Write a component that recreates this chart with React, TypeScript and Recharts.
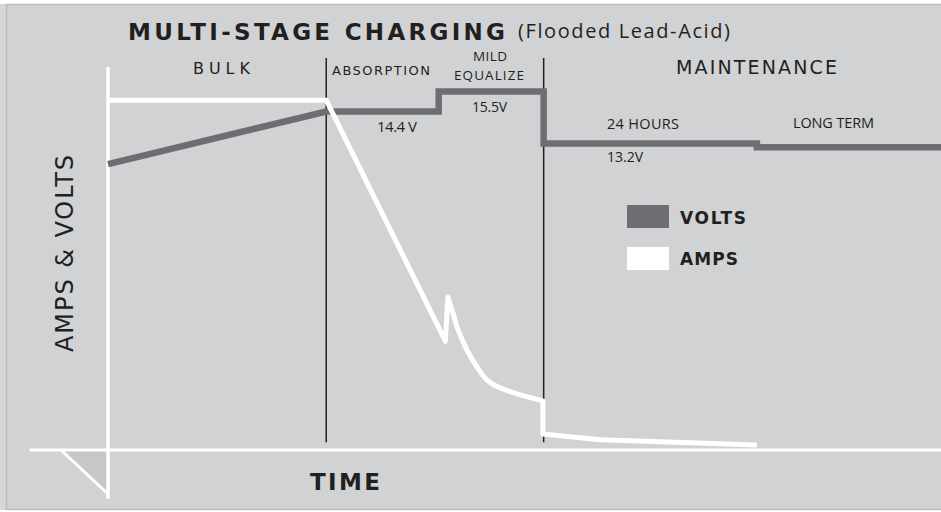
import { LineChart, Line, XAxis, YAxis, ReferenceLine } from "recharts";

// time runs 0..100 across the plot, level 0..100 is relative height (no real units on the diagram)
const voltTime = [0, 26.2, 39.7, 39.7, 52.3, 52.3, 77.9, 77.9, 100];
const voltLevel = [73.3, 86.8, 86.8, 91.9, 91.9, 78.6, 78.6, 77.6, 77.6];

const ampTime = [0, 26.2, 40.5, 40.8, 41.4, 41.9, 42.5, 43.1, 43.7, 44.3, 44.9, 45.5, 46.3, 47.1, 48.1, 49.1, 50.6, 52.2, 52.2, 59.1, 77.9];
const ampLevel = [89.7, 89.7, 27.9, 39.2, 35.2, 31.5, 28.3, 25.6, 23.3, 21.3, 19.4, 17.9, 16.7, 15.9, 15.1, 14.4, 13.5, 12.6, 4.1, 2.6, 1.3];

const stageBounds = [26.2, 52.3];

const volts = voltTime.map((t, i) => ({ t, v: voltLevel[i] }));
const amps = ampTime.map((t, i) => ({ t, v: ampLevel[i] }));

const INK = "#231f20";
const VOLT_GREY = "#6d6e71";
const WIDE = "'DejaVu Sans', sans-serif";
const W = 941;
const H = 512;

const App = () => {
  return (
    <div style={{ position: "absolute", left: 0, top: 0, width: W, height: H, background: "#fff" }}>
      {/* panel + the little triangle under the origin */}
      <svg width={W} height={H} style={{ position: "absolute", left: 0, top: 0 }}>
        <rect x={0} y={4} width={8} height={506} fill="#d6d7d8" />
        <rect x={6.5} y={4.5} width={940} height={505} fill="#d1d2d4" stroke="#bcbdbf" strokeWidth={1.5} />
        <polygon points="62,450 108,450 108,493" fill="#c6c7c9" />
        <line x1={61} y1={450} x2={108} y2={494} stroke="#fff" strokeWidth={3} />
      </svg>

      <LineChart
        width={W}
        height={H}
        margin={{ top: 60, right: 0, bottom: 62, left: 108 }}
        style={{ position: "absolute", left: 0, top: 0 }}
      >
        <XAxis dataKey="t" type="number" domain={[0, 100]} hide allowDuplicatedCategory={false} />
        <YAxis type="number" domain={[0, 100]} hide />
        {stageBounds.map((b) => (
          <ReferenceLine
            key={b}
            segment={[{ x: b, y: 2 }, { x: b, y: 100.5 }]}
            stroke={INK}
            strokeWidth={1.5}
            ifOverflow="visible"
          />
        ))}
        <ReferenceLine segment={[{ x: 0, y: -12.5 }, { x: 0, y: 98.2 }]} stroke="#fff" strokeWidth={3.5} ifOverflow="visible" />
        <ReferenceLine segment={[{ x: -9.4, y: 0 }, { x: 100, y: 0 }]} stroke="#fff" strokeWidth={3} ifOverflow="visible" />
        <Line
          data={volts}
          dataKey="v"
          type="linear"
          stroke={VOLT_GREY}
          strokeWidth={6.5}
          strokeLinejoin="miter"
          dot={false}
          activeDot={false}
          isAnimationActive={false}
        />
        <Line
          data={amps}
          dataKey="v"
          type="linear"
          stroke="#fff"
          strokeWidth={5}
          strokeLinejoin="round"
          dot={false}
          activeDot={false}
          isAnimationActive={false}
        />
      </LineChart>

      <svg
        width={W}
        height={H}
        style={{ position: "absolute", left: 0, top: 0, pointerEvents: "none" }}
        fontFamily="'Open Sans', sans-serif"
        fill={INK}
      >
        <text x={128} y={40} fontFamily={WIDE} fontSize={23} fontWeight={700} textLength={377} lengthAdjust="spacing">
          MULTI-STAGE CHARGING
        </text>
        <text x={518} y={38} fontSize={20} textLength={212} lengthAdjust="spacing">
          (Flooded Lead-Acid)
        </text>

        <text x={193} y={74} fontFamily={WIDE} fontSize={16} textLength={57} lengthAdjust="spacing">BULK</text>
        <text x={332} y={75} fontFamily={WIDE} fontSize={13} textLength={98} lengthAdjust="spacing">ABSORPTION</text>
        <text x={473} y={61} fontSize={13.5} textLength={34} lengthAdjust="spacing">MILD</text>
        <text x={454} y={80} fontSize={13.5} textLength={70} lengthAdjust="spacing">EQUALIZE</text>
        <text x={676} y={74} fontFamily={WIDE} fontSize={19} textLength={161} lengthAdjust="spacing">MAINTENANCE</text>

        <text x={377} y={132} fontSize={15} textLength={40} lengthAdjust="spacing">14.4 V</text>
        <text x={472} y={112} fontSize={14} textLength={35} lengthAdjust="spacing">15.5V</text>
        <text x={607} y={129} fontSize={14.5} textLength={72} lengthAdjust="spacing">24 HOURS</text>
        <text x={793} y={128} fontSize={14.5} textLength={81} lengthAdjust="spacing">LONG TERM</text>
        <text x={607} y={162} fontSize={14} textLength={36} lengthAdjust="spacing">13.2V</text>

        <rect x={627} y={205} width={42} height={23} fill={VOLT_GREY} />
        <rect x={627} y={247} width={42} height={23} fill="#fff" />
        <text x={680} y={224} fontFamily={WIDE} fontSize={17} fontWeight={700} textLength={66} lengthAdjust="spacing">VOLTS</text>
        <text x={680} y={265} fontFamily={WIDE} fontSize={17} fontWeight={700} textLength={58} lengthAdjust="spacing">AMPS</text>

        <text x={310} y={490} fontFamily={WIDE} fontSize={23} fontWeight={700} textLength={70} lengthAdjust="spacing">TIME</text>
        <text
          x={73}
          y={352}
          fontFamily={WIDE}
          fontSize={24}
          transform="rotate(-90 73 352)"
          textLength={197}
          lengthAdjust="spacing"
        >
          AMPS &amp; VOLTS
        </text>
      </svg>
    </div>
  );
};

export default App;
